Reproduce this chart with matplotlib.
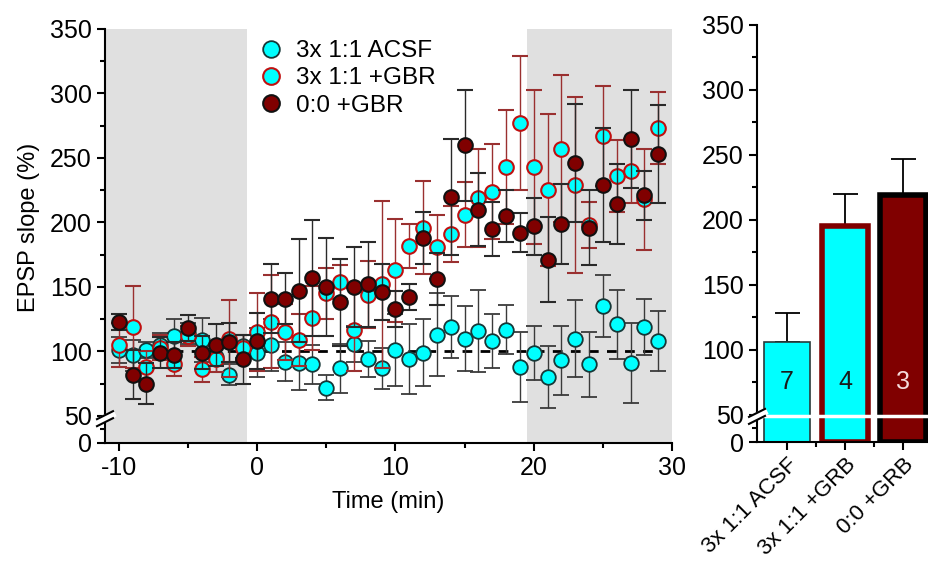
import matplotlib
matplotlib.use('Agg')
import matplotlib.pyplot as plt
import numpy as np
from matplotlib.ticker import FixedLocator
from matplotlib.lines import Line2D
from matplotlib.transforms import IdentityTransform

plt.rcParams['font.family'] = ['Liberation Sans', 'DejaVu Sans']
plt.rcParams['axes.unicode_minus'] = False

# ---------------- data ----------------
time = list(range(-10, 30))

acsf = [101, 97, 101, 105, 112, 114, 109, 96, 82, 104,
        99, 105, 92, 91, 90, 72, 87, 106, 94, 87,
        101, 94, 99, 113, 119, 110, 116, 108, 117, 88,
        99, 80, 93, 110, 90, 135, 121, 91, 119, 108]
acsf_err = [10, 12, 6, 9, 13, 8, 17, 12, 8, 9,
            19, 20, 15, 21, 15, 10, 19, 14, 14, 16,
            28, 27, 26, 32, 24, 25, 32, 21, 19, 27,
            21, 24, 27, 30, 25, 24, 27, 31, 22, 23]

gbr = [105, 119, 88, 103, 90, 112, 86, 94, 110, 103,
       115, 123, 115, 109, 126, 145, 154, 117, 144, 152,
       163, 182, 196, 181, 191, 206, 219, 224, 243, 277,
       243, 225, 257, 229, 198, 267, 236, 240, 218, 273]
gbr_err = [17, 32, 12, 10, 9, 8, 10, 10, 30, 10,
           30, 36, 22, 20, 25, 20, 13, 32, 26, 65,
           40, 17, 36, 25, 22, 25, 38, 37, 44, 52,
           60, 59, 57, 68, 18, 39, 28, 25, 39, 28]

zero_gbr = [123, 82, 75, 99, 97, 118, 99, 105, 107, 94,
            108, 141, 141, 147, 157, 150, 138, 150, 152, 146,
            133, 142, 188, 156, 220, 260, 210, 195, 205, 192,
            197, 171, 199, 246, 196, 229, 214, 265, 221, 253]
zero_gbr_err = [6, 19, 16, 12, 10, 10, 13, 16, 15, 19,
                22, 27, 20, 40, 45, 38, 34, 31, 33, 22,
                14, 10, 20, 20, 45, 43, 28, 21, 20, 15,
                22, 33, 31, 46, 29, 44, 31, 38, 19, 38]

series_labels = ['3x 1:1 ACSF', '3x 1:1 +GBR', '0:0 +GBR']

bar_labels = ['3x 1:1 ACSF', '3x 1:1 +GRB', '0:0 +GRB']
bar_values = [106, 195, 219]
bar_err = [22, 25, 28]
bar_n = ['7', '4', '3']

# ---------------- styles ----------------
CYAN = '#00ffff'
DRED = '#800000'
R = 0.42


def fwd(y):
    y = np.asarray(y, dtype=float)
    return np.where(y < 50, y * R, 50 * R + (y - 50))


def inv(u):
    u = np.asarray(u, dtype=float)
    return np.where(u < 50 * R, u / R, u - 50 * R + 50)


fig = plt.figure(figsize=(9.29, 5.63), dpi=100)
ax = fig.add_axes([105 / 929, 1 - 443 / 563, (672 - 105) / 929, (443 - 29) / 563])
ax2 = fig.add_axes([757 / 929, 1 - 442 / 563, (929 - 757) / 929, (442 - 25) / 563])

for a in (ax, ax2):
    a.set_yscale('function', functions=(fwd, inv))
    a.set_ylim(0, 350)
    a.spines['top'].set_visible(False)
    a.spines['right'].set_visible(False)
    a.spines['left'].set_linewidth(1.5)
    a.spines['bottom'].set_linewidth(1.5)
    a.yaxis.set_major_locator(FixedLocator([0, 50, 100, 150, 200, 250, 300, 350]))
    a.yaxis.set_minor_locator(FixedLocator([25, 75, 125, 175, 225, 275, 325]))
    a.tick_params(which='major', direction='out', length=6, width=1.5, labelsize=18, colors='black')
    a.tick_params(which='minor', direction='out', length=3.5, width=1.5)
    a.yaxis.set_major_formatter(matplotlib.ticker.FuncFormatter(lambda v, p: '%d' % round(v)))

# ---------------- left: time course ----------------
ax.set_xlim(-11, 30)
ax.axvspan(-11, -0.75, color='#e0e0e0', zorder=0, lw=0)
ax.axvspan(19.5, 30, color='#e0e0e0', zorder=0, lw=0)
ax.plot([-10, 29], [100, 100], color='black', lw=2, dashes=(3.5, 3), zorder=1)

ax.errorbar(time, acsf, yerr=acsf_err, fmt='o', ms=10.5, mfc=CYAN, mec='#163838', mew=1.3,
            ecolor='#3a3a3a', elinewidth=1, capsize=5.5, capthick=1, zorder=2)
ax.errorbar(time, gbr, yerr=gbr_err, fmt='o', ms=10.5, mfc=CYAN, mec='#c01010', mew=1.5,
            ecolor='#9a3030', elinewidth=1, capsize=5.5, capthick=1, zorder=3)
ax.errorbar(time, zero_gbr, yerr=zero_gbr_err, fmt='o', ms=10.5, mfc=DRED, mec='#111111', mew=1.5,
            ecolor='#2a2a2a', elinewidth=1, capsize=5.5, capthick=1, zorder=4)

ax.xaxis.set_major_locator(FixedLocator([-10, 0, 10, 20, 30]))
ax.xaxis.set_minor_locator(FixedLocator([-5, 5, 15, 25]))
ax.set_xlabel('Time (min)', fontsize=17, labelpad=8)
ax.set_ylabel('EPSP slope (%)', fontsize=17)
ax.yaxis.set_label_coords(-0.115, 0.52)

handles = [
    Line2D([], [], ls='none', marker='o', ms=12, mfc=CYAN, mec='#163838', mew=1.3),
    Line2D([], [], ls='none', marker='o', ms=12, mfc=CYAN, mec='#c01010', mew=1.5),
    Line2D([], [], ls='none', marker='o', ms=12, mfc=DRED, mec='#111111', mew=1.5),
]
ax.legend(handles, series_labels, loc='upper left', bbox_to_anchor=(0.262, 0.985),
          frameon=False, fontsize=17.5, handlelength=1.0, handletextpad=0.55,
          labelspacing=0.22, borderpad=0.2, borderaxespad=0)

# ---------------- right: bars ----------------
xb = np.arange(len(bar_values))
ax2.set_xlim(-0.52, 2.45)
ax2.bar(xb, bar_values, width=0.8, color=[CYAN, CYAN, DRED],
        edgecolor=['#2a3a3a', DRED, '#000000'], linewidth=[1.2, 4, 4], zorder=2)
ax2.errorbar(xb, bar_values, yerr=[np.zeros(len(bar_err)), bar_err], fmt='none',
             ecolor='black', elinewidth=1.3, capsize=9, capthick=1.3, zorder=1)
for i, n in enumerate(bar_n):
    ax2.text(xb[i], 75, n, ha='center', va='center', fontsize=18,
             color='#f5dcdc' if i == 2 else '#1a1a1a', zorder=6)
ax2.xaxis.set_major_locator(FixedLocator(list(xb)))
ax2.xaxis.set_minor_locator(FixedLocator([0.5, 1.5]))
ax2.set_xticklabels(bar_labels, rotation=45, ha='right', rotation_mode='anchor', fontsize=16)
ax2.tick_params(axis='x', which='major', labelsize=16, pad=3)
ax2.axhline(47, color='white', lw=2.5, zorder=5)


# ---------------- axis-break marks ----------------
def break_marks(a, yb):
    fig.canvas.draw()
    px, py = a.transData.transform((a.get_xlim()[0], yb))
    fig.add_artist(Line2D([px - 7, px + 7], [py - 3.5 + 1, py + 3.5 + 1], color='white', lw=5,
                          transform=IdentityTransform(), zorder=9))
    for dy in (-3, 4):
        fig.add_artist(Line2D([px - 8, px + 8], [py - 4 + dy, py + 4 + dy], color='black', lw=1.5,
                              transform=IdentityTransform(), zorder=10))


break_marks(ax, 44)
break_marks(ax2, 46)

fig.savefig('out.png', dpi=100, facecolor='white')
